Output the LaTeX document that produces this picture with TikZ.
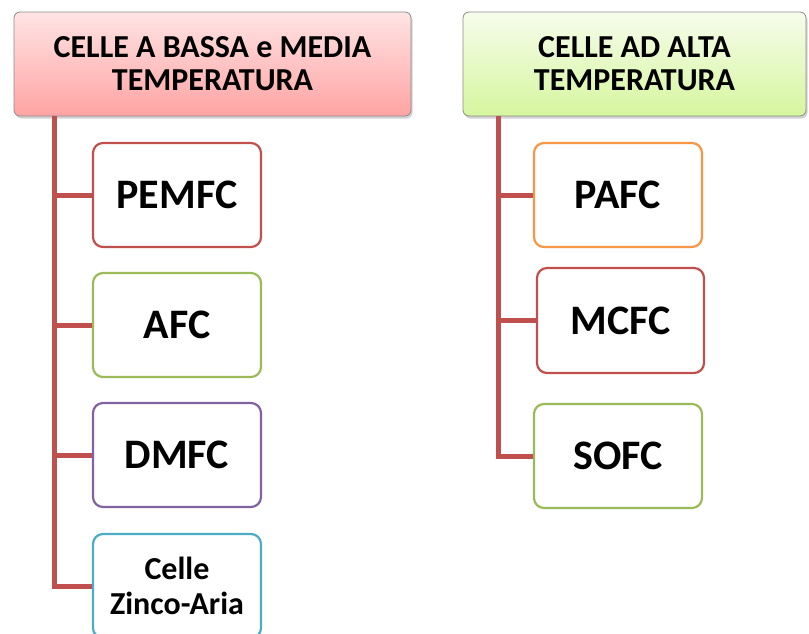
\documentclass[tikz,border=0pt]{standalone}
\usepackage{fontspec}
\setmainfont{Carlito}
\usetikzlibrary{shadows}
\definecolor{cred}{RGB}{192,80,77}
\definecolor{cgreen}{RGB}{155,187,89}
\definecolor{cpurple}{RGB}{128,100,162}
\definecolor{caqua}{RGB}{75,172,198}
\definecolor{corange}{RGB}{247,150,70}
\definecolor{hborder}{RGB}{140,140,140}
\tikzset{
  header/.style={draw=hborder, line width=0.8pt, rounded corners=6pt, inner sep=0pt,
    align=center, font=\fontsize{32}{33}\selectfont\bfseries,
    drop shadow={opacity=0.35, shadow xshift=1.5pt, shadow yshift=-2.5pt}},
  child/.style={draw=#1, fill=white, line width=2.2pt, rounded corners=10pt, inner sep=0pt,
    align=center, font=\fontsize{42}{44}\selectfont\bfseries,
    minimum width=168pt, minimum height=104pt},
  smalltext/.style={font=\fontsize{32}{35}\selectfont\bfseries},
  conn/.style={draw=cred, line width=5pt}
}
\begin{document}
\begin{tikzpicture}[x=1pt, y=-1pt]
\useasboundingbox (0,0) rectangle (809,633);
\clip (0,0) rectangle (809,633);
\fill[white] (0,0) rectangle (809,633);
% headers
\node[header, minimum width=397pt, minimum height=104pt,
      top color={rgb,255:red,255;green,228;blue,228}, bottom color={rgb,255:red,255;green,163;blue,163}]
  (h1) at (212.5,64) {CELLE A BASSA e MEDIA\\TEMPERATURA};
\node[header, minimum width=343pt, minimum height=104pt,
      top color={rgb,255:red,246;green,252;blue,236}, bottom color={rgb,255:red,214;green,246;blue,158}]
  (h2) at (634.5,64) {CELLE AD ALTA\\TEMPERATURA};
% children left
\node[child=cred] (pemfc) at (177,195) {PEMFC};
\node[child=cgreen] (afc) at (177,325) {AFC};
\node[child=cpurple] (dmfc) at (177,455) {DMFC};
\node[child=caqua, smalltext] (zinco) at (177,586) {Celle\\Zinco-Aria};
% children right
\node[child=corange] (pafc) at (618,195) {PAFC};
\node[child=cred, minimum width=167pt, minimum height=105pt] (mcfc) at (620.5,320.5) {MCFC};
\node[child=cgreen] (sofc) at (618,456) {SOFC};
% connectors
\coordinate (t1) at (h1.south west -| 54,0);
\coordinate (t2) at (h2.south west -| 498,0);
\draw[conn] (t1) |- (zinco.west);
\draw[conn] (t1 |- pemfc.west) -- (pemfc.west);
\draw[conn] (t1 |- afc.west) -- (afc.west);
\draw[conn] (t1 |- dmfc.west) -- (dmfc.west);
\draw[conn] (t2) |- (sofc.west);
\draw[conn] (t2 |- pafc.west) -- (pafc.west);
\draw[conn] (t2 |- mcfc.west) -- (mcfc.west);
\end{tikzpicture}
\end{document}
